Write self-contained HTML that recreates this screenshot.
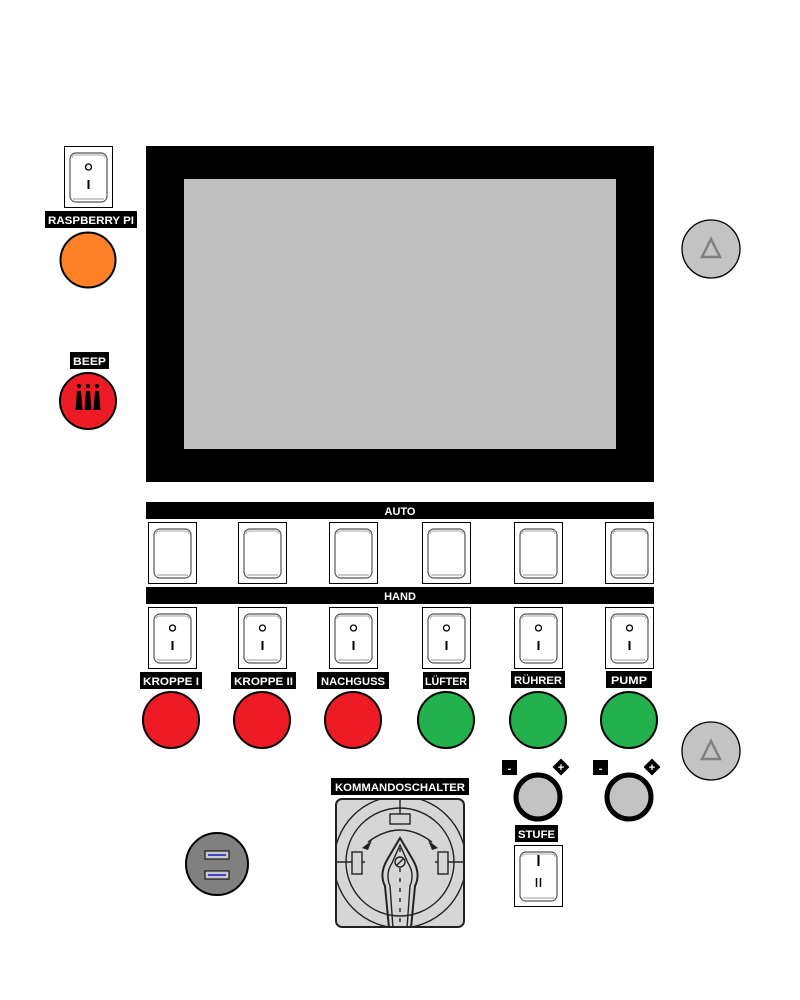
<!DOCTYPE html>
<html><head><meta charset="utf-8"><style>
html,body{margin:0;padding:0;background:#fff;}
svg{display:block;}
text{font-family:"Liberation Sans",sans-serif;font-weight:bold;font-size:11px;fill:#fff;}
</style></head><body>
<svg width="800" height="1000" viewBox="0 0 800 1000" xmlns="http://www.w3.org/2000/svg">
<defs>
<g id="sw">
<rect x="0.5" y="0.5" width="48" height="61" fill="#fff" stroke="#000"/>
<rect x="6" y="7" width="37" height="49" rx="6" fill="#fff" stroke="#555" stroke-width="1.2"/>
<path d="M8 12 Q8 9 12 9 L37 9 Q41 9 41 12" fill="none" stroke="#aaa"/>
<line x1="9" y1="53" x2="40" y2="53" stroke="#999"/>
</g>
<g id="swi">
<use href="#sw"/>
<circle cx="24.5" cy="21" r="3" fill="none" stroke="#000" stroke-width="1.3"/>
<line x1="24.5" y1="34" x2="24.5" y2="43" stroke="#000" stroke-width="2"/>
</g>
</defs>

<!-- screen -->
<rect x="146" y="146" width="508" height="336" fill="#000"/>
<rect x="184" y="179" width="432" height="270" fill="#c0c0c0"/>

<!-- top-left -->
<use href="#swi" x="64" y="146"/>
<rect x="45" y="211" width="92" height="17" fill="#000"/>
<text x="91" y="224" text-anchor="middle" textLength="86" lengthAdjust="spacingAndGlyphs">RASPBERRY PI</text>
<circle cx="88" cy="260" r="27.5" fill="#fe8027" stroke="#000" stroke-width="2"/>

<rect x="70" y="352" width="39" height="17" fill="#000"/>
<text x="89.5" y="365" text-anchor="middle" textLength="33" lengthAdjust="spacingAndGlyphs">BEEP</text>
<circle cx="88" cy="401" r="28" fill="#ed1c24" stroke="#000" stroke-width="2"/>
<g fill="#000">
<circle cx="79" cy="386" r="2"/><path d="M77 391 L81 391 L82.5 410 L75.5 410Z"/>
<circle cx="88" cy="386" r="2"/><path d="M86 391 L90 391 L91.5 410 L84.5 410Z"/>
<circle cx="97" cy="386" r="2"/><path d="M95 391 L99 391 L100.5 410 L93.5 410Z"/>
</g>

<!-- right buttons -->
<g>
<circle cx="711" cy="249" r="29" fill="#c3c3c3" stroke="#000" stroke-width="1.3"/>
<path d="M711 239 L720 257 L702 257Z" fill="none" stroke="#808080" stroke-width="2.5"/>
<circle cx="711" cy="751" r="29" fill="#c3c3c3" stroke="#000" stroke-width="1.3"/>
<path d="M711 741 L720 759 L702 759Z" fill="none" stroke="#808080" stroke-width="2.5"/>
</g>

<!-- AUTO -->
<rect x="146" y="502" width="508" height="17" fill="#000"/>
<text x="400" y="515" text-anchor="middle">AUTO</text>
<use href="#sw" x="148" y="522"/>
<use href="#sw" x="238" y="522"/>
<use href="#sw" x="329" y="522"/>
<use href="#sw" x="422" y="522"/>
<use href="#sw" x="514" y="522"/>
<use href="#sw" x="605" y="522"/>

<!-- HAND -->
<rect x="146" y="587" width="508" height="17" fill="#000"/>
<text x="400" y="600" text-anchor="middle">HAND</text>
<use href="#swi" x="148" y="607"/>
<use href="#swi" x="238" y="607"/>
<use href="#swi" x="329" y="607"/>
<use href="#swi" x="422" y="607"/>
<use href="#swi" x="514" y="607"/>
<use href="#swi" x="605" y="607"/>

<!-- labels -->
<rect x="140" y="672" width="62" height="17" fill="#000"/><text x="171" y="685" text-anchor="middle" textLength="56" lengthAdjust="spacingAndGlyphs">KROPPE I</text>
<rect x="231" y="672" width="65" height="17" fill="#000"/><text x="263.5" y="685" text-anchor="middle" textLength="59" lengthAdjust="spacingAndGlyphs">KROPPE II</text>
<rect x="317" y="672" width="72" height="17" fill="#000"/><text x="353" y="685" text-anchor="middle" textLength="64" lengthAdjust="spacingAndGlyphs">NACHGUSS</text>
<rect x="423" y="672" width="46" height="17" fill="#000"/><text x="446" y="685" text-anchor="middle" textLength="42" lengthAdjust="spacingAndGlyphs">LÜFTER</text>
<rect x="511" y="671" width="54" height="17" fill="#000"/><text x="538" y="684" text-anchor="middle" textLength="48" lengthAdjust="spacingAndGlyphs">RÜHRER</text>
<rect x="606" y="671" width="46" height="17" fill="#000"/><text x="629" y="684" text-anchor="middle" textLength="36" lengthAdjust="spacingAndGlyphs">PUMP</text>

<g stroke="#000" stroke-width="2">
<circle cx="171" cy="720" r="28" fill="#ed1c24"/>
<circle cx="262" cy="720" r="28" fill="#ed1c24"/>
<circle cx="353" cy="720" r="28" fill="#ed1c24"/>
<circle cx="446" cy="720" r="28" fill="#22b14c"/>
<circle cx="538" cy="720" r="28" fill="#22b14c"/>
<circle cx="629" cy="720" r="28" fill="#22b14c"/>
</g>

<!-- knobs -->
<g>
<rect x="502" y="760" width="15" height="15" fill="#000"/><text x="509.5" y="772" text-anchor="middle">-</text>
<rect x="555" y="761" width="12" height="12" fill="#000" transform="rotate(45 561 767)"/><text x="561" y="771" text-anchor="middle" font-size="10">+</text>
<circle cx="538" cy="797" r="22" fill="#c3c3c3" stroke="#000" stroke-width="5"/>
<rect x="593" y="760" width="15" height="15" fill="#000"/><text x="600.5" y="772" text-anchor="middle">-</text>
<rect x="646" y="761" width="12" height="12" fill="#000" transform="rotate(45 652 767)"/><text x="652" y="771" text-anchor="middle" font-size="10">+</text>
<circle cx="629" cy="797" r="22" fill="#c3c3c3" stroke="#000" stroke-width="5"/>
</g>

<!-- STUFE -->
<rect x="515" y="825" width="43" height="17" fill="#000"/><text x="536.5" y="838" text-anchor="middle" textLength="37" lengthAdjust="spacingAndGlyphs">STUFE</text>
<use href="#sw" x="514" y="845"/>
<line x1="538.5" y1="855" x2="538.5" y2="866" stroke="#000" stroke-width="2"/>
<line x1="536.5" y1="878" x2="536.5" y2="887" stroke="#000" stroke-width="1.5"/>
<line x1="540.5" y1="878" x2="540.5" y2="887" stroke="#000" stroke-width="1.5"/>

<!-- KOMMANDOSCHALTER -->
<rect x="331" y="778" width="138" height="17" fill="#000"/><text x="400" y="791" text-anchor="middle" textLength="130" lengthAdjust="spacingAndGlyphs">KOMMANDOSCHALTER</text>
<svg x="335" y="798" width="130" height="130" overflow="hidden">
<rect x="1" y="1" width="128" height="128" rx="6" fill="#d6d6d6" stroke="#222" stroke-width="2"/>
<g fill="none" stroke="#222" stroke-width="1.4">
<circle cx="65" cy="64" r="66"/>
<circle cx="65" cy="64" r="54"/>
<line x1="65" y1="2" x2="65" y2="16"/>
<line x1="2" y1="64" x2="30" y2="64"/><line x1="100" y1="64" x2="128" y2="64"/>
<path d="M33 44 Q65 20 97 44"/>
<path d="M54 130 L50 88 Q44 76 52 62 L65 40 L78 62 Q86 76 80 88 L76 130" stroke-width="2"/>
<path d="M58 130 L55 88 Q50 76 57 65 L65 47 L73 65 Q80 76 75 88 L72 130"/>
<line x1="65" y1="50" x2="65" y2="130" stroke-dasharray="4 6"/>
<circle cx="65" cy="64" r="5" fill="#d6d6d6"/>
<line x1="62" y1="67" x2="68" y2="61"/>
<rect x="55" y="16" width="20" height="10" fill="#d6d6d6"/>
<rect x="17" y="54" width="10" height="22" fill="#d6d6d6"/>
<rect x="103" y="54" width="10" height="22" fill="#d6d6d6"/>
</g>
<path d="M27 50 L37 42 L33 52Z M103 50 L93 42 L97 52Z" fill="#222"/>
</svg>

<!-- USB -->
<circle cx="217" cy="864" r="31" fill="#808080" stroke="#000" stroke-width="2"/>
<rect x="205" y="851" width="24" height="8" fill="#c8c8c8" stroke="#000"/>
<line x1="208" y1="855" x2="226" y2="855" stroke="#3f48cc" stroke-width="2"/>
<rect x="205" y="871" width="24" height="8" fill="#c8c8c8" stroke="#000"/>
<line x1="208" y1="875" x2="226" y2="875" stroke="#3f48cc" stroke-width="2"/>
</svg>
</body></html>
